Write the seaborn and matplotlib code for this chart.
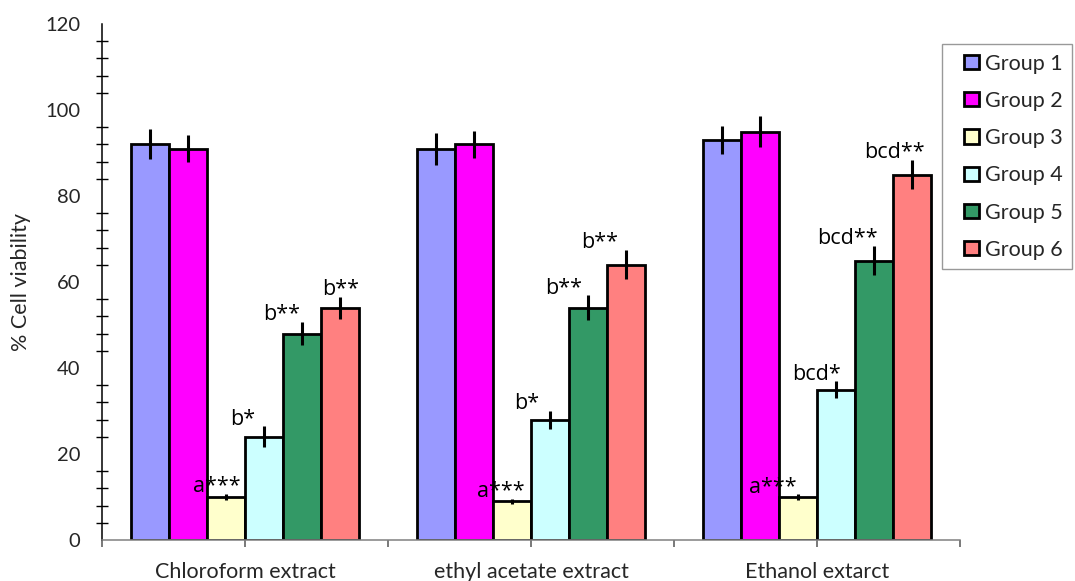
import numpy as np
import pandas as pd
import seaborn as sns
import matplotlib
matplotlib.use("Agg")
import matplotlib.pyplot as plt
from matplotlib.patches import Patch, Rectangle
from matplotlib.legend_handler import HandlerPatch
from matplotlib.container import BarContainer
from matplotlib.ticker import MultipleLocator, FixedLocator

# ---- data ----
extracts = ["Chloroform extract", "ethyl acetate extract", "Ethanol extarct"]
groups = ["Group 1", "Group 2", "Group 3", "Group 4", "Group 5", "Group 6"]

# mean % cell viability, one list per group (order follows extracts)
group1 = [92, 91, 93]
group2 = [91, 92, 95]
group3 = [10, 9, 10]
group4 = [24, 28, 35]
group5 = [48, 54, 65]
group6 = [54, 64, 85]

# error (±) per group
err1 = [3.5, 3.7, 3.2]
err2 = [3.1, 3.1, 3.5]
err3 = [0.8, 0.6, 0.6]
err4 = [2.4, 2.1, 1.9]
err5 = [2.7, 2.9, 3.4]
err6 = [2.5, 3.4, 3.4]

# significance letters per group
sig1 = ["", "", ""]
sig2 = ["", "", ""]
sig3 = ["a***", "a***", "a***"]
sig4 = ["b*", "b*", "bcd*"]
sig5 = ["b**", "b**", "bcd**"]
sig6 = ["b**", "b**", "bcd**"]

colors = ["#9999FF", "#FF00FF", "#FFFFCC", "#CCFFFF", "#339966", "#FF8080"]

values = [group1, group2, group3, group4, group5, group6]
errors = [err1, err2, err3, err4, err5, err6]
sigs = [sig1, sig2, sig3, sig4, sig5, sig6]

# horizontal nudge of each significance label, in bar widths
label_shift = [
    [0, 0, 0],
    [0, 0, 0],
    [-0.25, -0.3, -0.65],
    [-0.55, -0.6, -0.5],
    [-0.55, -0.65, -0.7],
    [0.0, -0.7, -0.47],
]

df = pd.DataFrame(
    [(e, g, values[gi][ei]) for gi, g in enumerate(groups) for ei, e in enumerate(extracts)],
    columns=["extract", "group", "value"],
)

sns.set_style("white")
plt.rcParams["font.family"] = ["Lato", "DejaVu Sans"]

fig = plt.figure(figsize=(10.75, 5.81), dpi=100)
ax = fig.add_axes([102 / 1075, 41 / 581, 858 / 1075, 516 / 581])

sns.barplot(
    data=df, x="extract", y="value", hue="group", order=extracts, hue_order=groups,
    palette=colors, saturation=1, edgecolor="black", linewidth=2.0,
    errorbar=None, width=0.8, legend=False, ax=ax,
)

bar_sets = [c for c in ax.containers if isinstance(c, BarContainer)]

# error bars and significance labels on top of each bar
for gi, cont in enumerate(bar_sets):
    for ei, bar in enumerate(cont.patches):
        x = bar.get_x() + bar.get_width() / 2
        y = bar.get_height()
        e = errors[gi][ei]
        ax.errorbar(x, y, yerr=e, fmt="none", ecolor="black", elinewidth=2.2, capsize=0, zorder=5)
        if sigs[gi][ei]:
            ax.text(x + label_shift[gi][ei] * bar.get_width(), y + e + 0.4, sigs[gi][ei],
                    ha="center", va="baseline", fontsize=15.5, family=["Open Sans", "DejaVu Sans"],
                    color="black", zorder=6)

ax.set_xlim(-0.5, 2.5)
ax.set_ylim(0, 120)
ax.yaxis.set_major_locator(MultipleLocator(20))
ax.yaxis.set_minor_locator(MultipleLocator(4))
ax.tick_params(axis="y", which="major", direction="inout", length=13, width=1.1,
               labelsize=14.5, color="black", pad=9)
ax.tick_params(axis="y", which="minor", direction="inout", length=8, width=1.0, color="black", left=True)

ax.xaxis.set_minor_locator(FixedLocator([-0.5, 0.5, 1.5, 2.5]))
ax.tick_params(axis="x", which="both", direction="out", length=5, width=1.1,
               color="#555555", labelsize=15.5, pad=11, bottom=True)

ax.set_xlabel("")
ax.set_ylabel("% Cell viability", fontsize=15.5, labelpad=10)

for side in ["top", "right"]:
    ax.spines[side].set_visible(False)
ax.spines["left"].set_color("black")
ax.spines["left"].set_linewidth(1.1)
ax.spines["bottom"].set_color("#808080")
ax.spines["bottom"].set_linewidth(1.1)


def square_key(legend, orig_handle, xdescent, ydescent, width, height, fontsize):
    # small square key drawn at the right end of the handle box
    s = 0.66 * fontsize
    return Rectangle((-xdescent + width - s, -ydescent + (height - s) / 2), s, s)


handles = [Patch(facecolor=c, edgecolor="black", linewidth=2.0) for c in colors]
leg = fig.legend(
    handles, groups, loc="upper left", bbox_to_anchor=(942 / 1075, 1 - 44 / 581),
    frameon=True, fancybox=False, edgecolor="#808080", fontsize=15.5,
    handlelength=1.25, handleheight=0.7, handletextpad=0.3, labelspacing=0.8,
    borderpad=0.45, borderaxespad=0,
    handler_map={Patch: HandlerPatch(patch_func=square_key)},
)
leg.get_frame().set_linewidth(1.0)

fig.savefig("out.png", dpi=100, facecolor="white")
